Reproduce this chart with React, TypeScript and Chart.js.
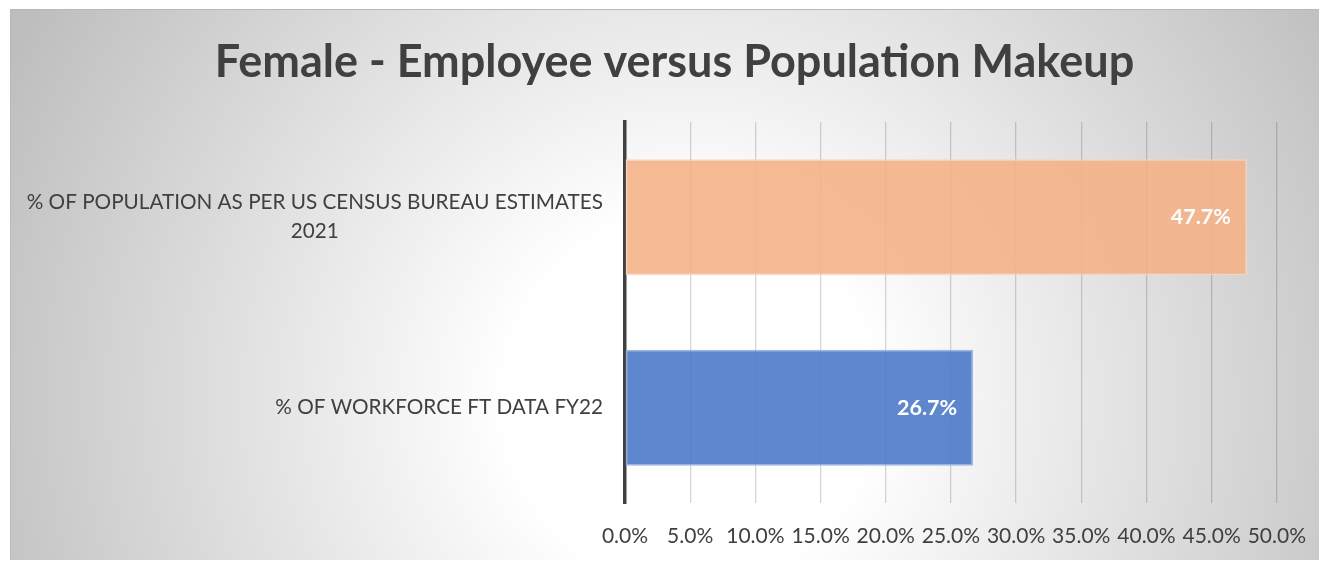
import React, { useEffect, useRef } from "react";
import { Chart, registerables } from "chart.js";

Chart.register(...registerables);

const TITLE = "Female - Employee versus Population Makeup";
const categories: string[][] = [
  ["% OF POPULATION AS PER US CENSUS BUREAU ESTIMATES", "2021"],
  ["% OF WORKFORCE FT DATA FY22"],
];
const values: number[] = [47.7, 26.7];
const barFills: string[] = ["rgba(244,177,136,0.9)", "rgba(78,122,200,0.9)"];
const barBorders: string[] = ["rgba(250,212,188,0.95)", "rgba(150,178,225,0.95)"];
const xMin = 0;
const xMax = 50;
const xStep = 5;

const FONT = "Lato, 'Noto Sans', sans-serif";

const bgPlugin = {
  id: "bgGradient",
  beforeDraw(chart: any) {
    const { ctx, width, height } = chart;
    ctx.save();
    const g = ctx.createRadialGradient(680, 390, 0, 680, 390, 760);
    g.addColorStop(0, "#ffffff");
    g.addColorStop(0.24, "#ffffff");
    g.addColorStop(1, "#bebebe");
    ctx.fillStyle = g;
    ctx.fillRect(0, 0, width, height);
    ctx.strokeStyle = "#b8b8b8";
    ctx.lineWidth = 1;
    ctx.beginPath();
    ctx.moveTo(0.5, height);
    ctx.lineTo(0.5, 0.5);
    ctx.lineTo(width, 0.5);
    ctx.stroke();
    // title
    ctx.font = `bold 45px ${FONT}`;
    ctx.fillStyle = "#404040";
    ctx.textAlign = "center";
    ctx.textBaseline = "middle";
    ctx.fillText(TITLE, 664.5, 53);
    ctx.restore();
  },
};

const catLabelPlugin = {
  id: "catLabels",
  afterDraw(chart: any) {
    const { ctx } = chart;
    const yScale = chart.scales.y;
    const right = chart.chartArea.left - 22;
    const fontSize = 20.7;
    const lh = 29;
    ctx.save();
    ctx.font = `${fontSize}px ${FONT}`;
    ctx.fillStyle = "#404040";
    ctx.textBaseline = "middle";
    ctx.textAlign = "center";
    categories.forEach((lines, i) => {
      const cy = yScale.getPixelForValue(i);
      const widest = Math.max(...lines.map((l) => ctx.measureText(l).width));
      const cx = right - widest / 2;
      const top = cy - ((lines.length - 1) * lh) / 2;
      lines.forEach((l, j) => ctx.fillText(l, cx, top + j * lh));
    });
    ctx.restore();
  },
};

const valueLabelPlugin = {
  id: "valueLabels",
  afterDatasetsDraw(chart: any) {
    const { ctx } = chart;
    const meta = chart.getDatasetMeta(0);
    ctx.save();
    ctx.font = `bold 21.5px ${FONT}`;
    ctx.fillStyle = "#ffffff";
    ctx.textAlign = "right";
    ctx.textBaseline = "middle";
    meta.data.forEach((bar: any, i: number) => {
      ctx.fillText(values[i].toFixed(1) + "%", bar.x - 16, bar.y);
    });
    ctx.restore();
  },
};

export default function App() {
  const ref = useRef<HTMLCanvasElement | null>(null);
  useEffect(() => {
    if (!ref.current) return;
    const chart = new Chart(ref.current, {
      type: "bar",
      data: {
        labels: categories.map((c) => c.join(" ")),
        datasets: [
          {
            data: values,
            backgroundColor: barFills,
            borderColor: barBorders,
            borderWidth: 1.5,
            borderSkipped: false,
            categoryPercentage: 0.61,
            barPercentage: 1,
          },
        ],
      },
      options: {
        indexAxis: "y",
        animation: false,
        responsive: false,
        maintainAspectRatio: false,
        layout: { padding: { top: 113, left: 0, right: 50, bottom: 0 } },
        plugins: {
          legend: { display: false },
          tooltip: { enabled: false },
          title: { display: false },
        },
        scales: {
          x: {
            min: xMin,
            max: xMax,
            ticks: {
              stepSize: xStep,
              callback: (v: any) => Number(v).toFixed(1) + "%",
              color: "#404040",
              font: { family: FONT, size: 21 },
              padding: 21,
              maxRotation: 0,
              autoSkip: false,
            },
            grid: { color: "rgba(0,0,0,0.16)", lineWidth: 1.3, drawTicks: false },
            border: { display: false },
            afterFit: (s: any) => {
              s.height = 58;
            },
          },
          y: {
            z: 1,
            ticks: { display: false },
            grid: { display: false, drawTicks: false },
            border: { display: true, color: "#404040", width: 3.5 },
            afterFit: (s: any) => {
              s.width = 615;
            },
          },
        },
      },
      plugins: [bgPlugin, catLabelPlugin, valueLabelPlugin],
    });
    return () => chart.destroy();
  }, []);
  return (
    <div style={{ position: "relative", left: 2, top: 1, width: 1317, height: 552 }}>
      <canvas ref={ref} width={1317} height={552} style={{ display: "block" }} />
    </div>
  );
}
